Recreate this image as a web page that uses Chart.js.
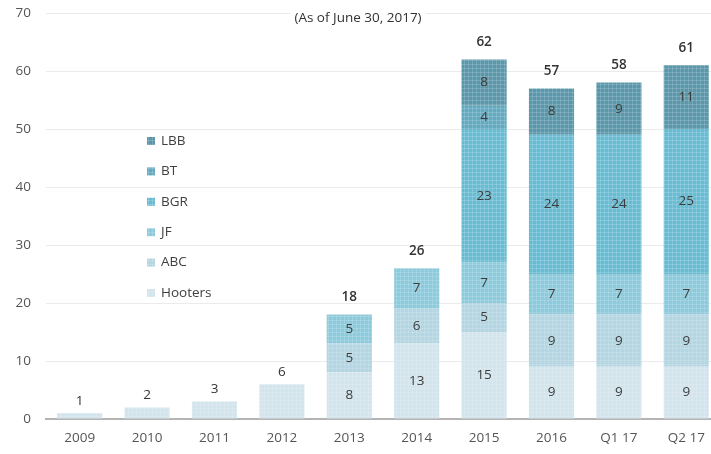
<!DOCTYPE html>
<html>
<head>
<meta charset="utf-8">
<script src="https://cdn.jsdelivr.net/npm/chart.js@4/dist/chart.umd.min.js"></script>
<style>
  html, body { margin: 0; padding: 0; background: #fff; overflow: hidden; }
  #wrap { width: 720px; height: 454px; position: relative; }
</style>
</head>
<body>
<div id="wrap"><canvas id="chart"></canvas></div>
<script>
const categories = ['2009', '2010', '2011', '2012', '2013', '2014', '2015', '2016', 'Q1 17', 'Q2 17'];
const hooters = [1, 2, 3, 6, 8, 13, 15, 9, 9, 9];
const abc     = [0, 0, 0, 0, 5, 6, 5, 9, 9, 9];
const jf      = [0, 0, 0, 0, 5, 7, 7, 7, 7, 7];
const bgr     = [0, 0, 0, 0, 0, 0, 23, 24, 24, 25];
const bt      = [0, 0, 0, 0, 0, 0, 4, 0, 0, 0];
const lbb     = [0, 0, 0, 0, 0, 0, 8, 8, 9, 11];
const yTicks = [0, 10, 20, 30, 40, 50, 60, 70];

const seriesNames = ['Hooters', 'ABC', 'JF', 'BGR', 'BT', 'LBB'];
const seriesData = [hooters, abc, jf, bgr, bt, lbb];
const seriesColors = ['#d2e4ec', '#b3d6e2', '#8dcadb', '#69bbd2', '#63aac0', '#5b97aa'];

const FONT = "'Open Sans', 'Noto Sans', sans-serif";

// small grid texture like the original fills
function makePattern(color) {
  const c = document.createElement('canvas');
  c.width = 4; c.height = 4;
  const g = c.getContext('2d');
  g.fillStyle = color;
  g.fillRect(0, 0, 4, 4);
  g.fillStyle = 'rgba(255,255,255,0.16)';
  g.fillRect(0, 0, 4, 1);
  g.fillRect(0, 0, 1, 4);
  return g.createPattern(c, 'repeat');
}

const totals = categories.map((_, i) => seriesData.reduce((s, arr) => s + arr[i], 0));
const segCount = categories.map((_, i) => seriesData.filter(arr => arr[i] > 0).length);

const labelPlugin = {
  id: 'labels',
  afterDatasetsDraw(chart) {
    const ctx = chart.ctx;
    const yScale = chart.scales.y;
    ctx.save();
    ctx.textAlign = 'center';
    ctx.textBaseline = 'middle';
    // inside labels
    ctx.fillStyle = '#3c3c3c';
    ctx.font = '13.5px ' + FONT;
    chart.data.datasets.forEach((ds, di) => {
      const meta = chart.getDatasetMeta(di);
      meta.data.forEach((bar, i) => {
        const v = ds.data[i];
        if (!v || segCount[i] < 2) return;
        ctx.fillText(String(v), bar.x, (bar.y + bar.base) / 2);
      });
    });
    // totals
    const meta0 = chart.getDatasetMeta(0);
    totals.forEach((t, i) => {
      const x = meta0.data[i].x;
      const y = yScale.getPixelForValue(t) - (segCount[i] > 1 ? 17 : 12);
      ctx.font = (segCount[i] > 1 ? '600 ' : '') + '13.5px ' + FONT;
      ctx.fillStyle = '#333';
      ctx.fillText(String(t), x, y);
    });
    ctx.restore();
  },
  afterDraw(chart) {
    const ctx = chart.ctx;
    ctx.save();
    // subtitle
    ctx.font = '13.5px ' + FONT;
    ctx.textAlign = 'center';
    ctx.textBaseline = 'middle';
    const title = '(As of June 30, 2017)';
    const tw = ctx.measureText(title).width;
    ctx.fillStyle = '#fff';
    ctx.fillRect(358 - tw / 2 - 4, 8, tw + 8, 20);
    ctx.fillStyle = '#333';
    ctx.fillText(title, 358, 18);
    // legend, top entry is last series
    ctx.textAlign = 'left';
    ctx.font = '13.5px ' + FONT;
    const n = chart.data.datasets.length;
    for (let k = 0; k < n; k++) {
      const ds = chart.data.datasets[n - 1 - k];
      const cy = 141 + k * 30.4;
      ctx.fillStyle = ds.backgroundColor;
      ctx.fillRect(147, cy - 4, 8, 8);
      ctx.fillStyle = '#404040';
      ctx.fillText(ds.label, 161, cy);
    }
    ctx.restore();
  }
};

new Chart(document.getElementById('chart'), {
  type: 'bar',
  data: {
    labels: categories,
    datasets: seriesNames.map((name, i) => ({
      label: name,
      data: seriesData[i],
      backgroundColor: makePattern(seriesColors[i]),
      borderWidth: 0,
      categoryPercentage: 1,
      barPercentage: 0.67
    }))
  },
  options: {
    responsive: true,
    maintainAspectRatio: false,
    animation: false,
    layout: { padding: { top: 13, right: 0, left: 0, bottom: 0 } },
    plugins: {
      legend: { display: false },
      tooltip: { enabled: false }
    },
    scales: {
      x: {
        stacked: true,
        grid: { display: false, drawTicks: false },
        border: { color: '#b4b4b4', width: 2 },
        ticks: { color: '#555', font: { family: FONT, size: 13.5 }, padding: 11, maxRotation: 0 },
        afterFit(scale) { scale.height = 35; }
      },
      y: {
        stacked: true,
        min: 0,
        max: 70,
        afterBuildTicks(scale) { scale.ticks = yTicks.map(v => ({ value: v })); },
        grid: { color: '#ebebeb', drawTicks: true, tickLength: 11, tickColor: 'rgba(0,0,0,0)' },
        border: { display: false },
        ticks: { color: '#555', font: { family: FONT, size: 13.5 }, padding: 4 },
        afterFit(scale) { scale.width = 46; }
      }
    }
  },
  plugins: [labelPlugin]
});
</script>
</body>
</html>
